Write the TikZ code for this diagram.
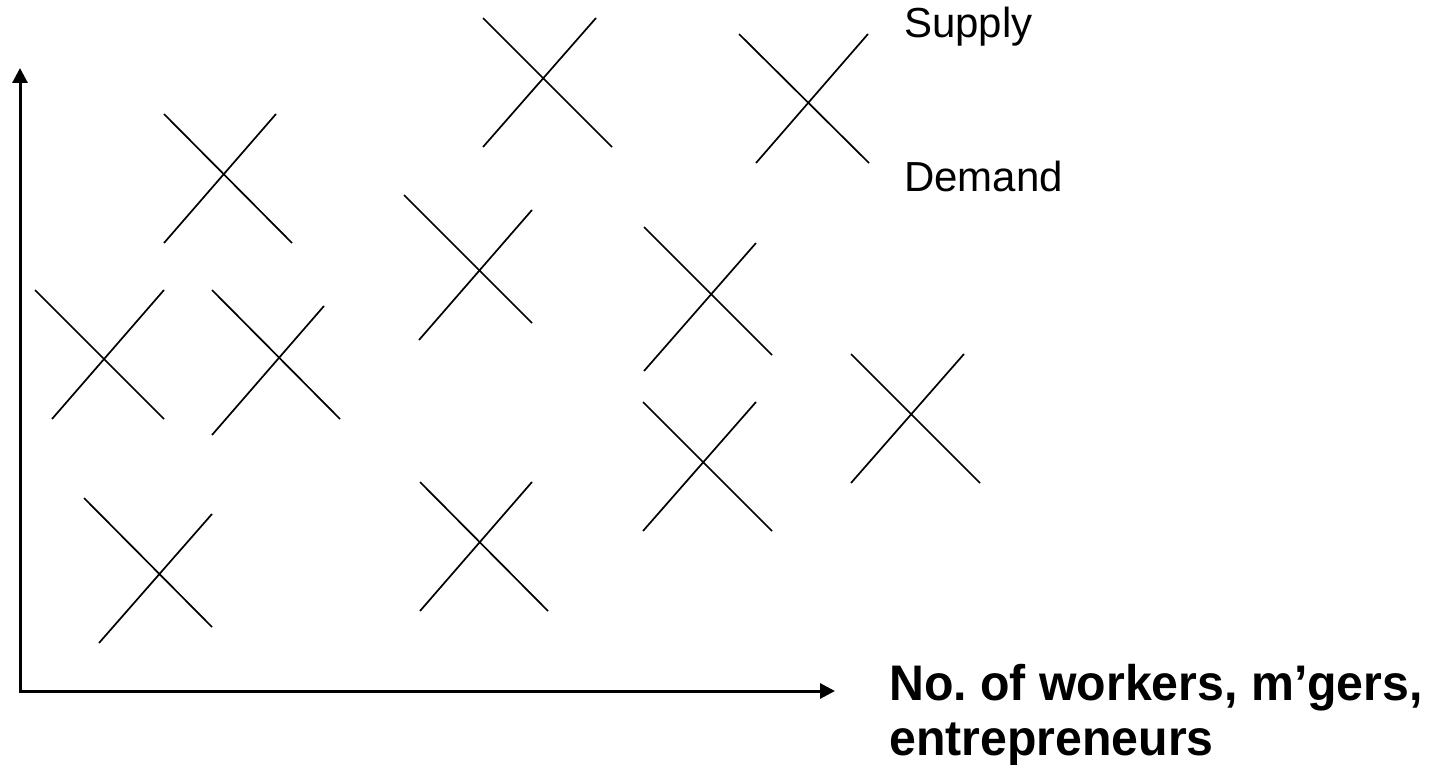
\documentclass[tikz,border=0pt]{standalone}
\usepackage{fontspec}
\setmainfont{Liberation Sans}
\usetikzlibrary{arrows.meta}
\frenchspacing
\begin{document}
\begin{tikzpicture}[x=1pt,y=-1pt,
  curve/.style={line width=1.7pt, line cap=butt},
  axis/.style={line width=3pt, {Triangle[length=15pt,width=15pt]}-{Triangle[length=15pt,width=15pt]}},
  lbl/.style={anchor=base west, inner sep=0pt, font=\fontsize{42}{48}\selectfont},
  blbl/.style={anchor=base west, inner sep=0pt, font=\fontsize{50}{56}\selectfont\bfseries}]
\useasboundingbox (0,0) rectangle (1433,765);
% axes
\coordinate (ytop) at (20,68);
\coordinate (O) at (20,691);
\coordinate (xend) at (835,691);
\draw[axis] (ytop) -- (O) -- (xend);
% crosses: demand (down-sloping) and supply (up-sloping)
\draw[curve] (164,114) -- (292,243) (164,243) -- (276,114);
\draw[curve] (35,290) -- (164,419) (52,419) -- (164,290);
\draw[curve] (212,290) -- (340,419) (212,435) -- (324,306);
\draw[curve] (483,18) -- (612,147) (483,147) -- (596,18);
\draw[curve] (404,195) -- (532,323) (419,340) -- (532,210);
\draw[curve] (644,227) -- (772,355) (644,371) -- (756,243);
\draw[curve] (739,34) -- (869,163) (756,163) -- (868,34);
\draw[curve] (851,354) -- (980,483) (851,483) -- (964,354);
\draw[curve] (643,402) -- (772,531) (643,531) -- (756,402);
\draw[curve] (84,498) -- (212,627) (99,643) -- (212,514);
\draw[curve] (420,482) -- (548,611) (420,611) -- (532,482);
% labels
\node[lbl] (supply) at (904,38) {Supply};
\node[lbl] (demand) at (904,192) {Demand};
\node[blbl] (xl1) at (889,700) {\scalebox{0.965}[1]{No.\ of workers, m’gers,}};
\node[blbl] (xl2) at (889,755) {\scalebox{0.965}[1]{entrepreneurs}};
\end{tikzpicture}
\end{document}
